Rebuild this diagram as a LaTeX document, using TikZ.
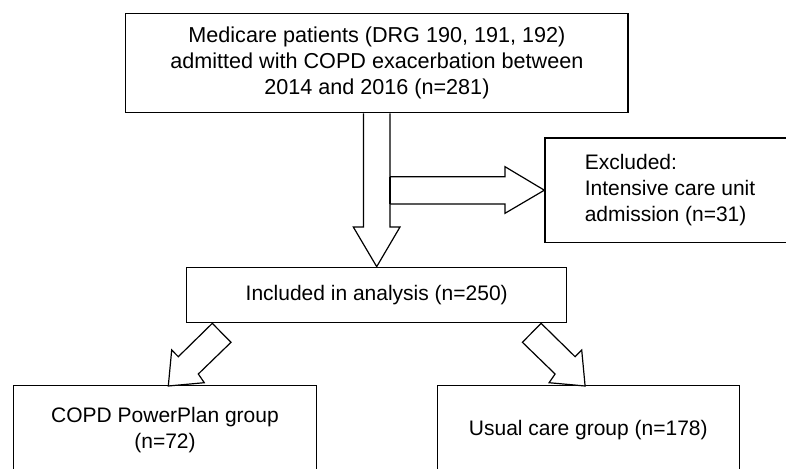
\documentclass[tikz,border=0pt]{standalone}
\usepackage{fontspec}
\setmainfont{Liberation Sans}
\usetikzlibrary{calc}
\begin{document}
\begin{tikzpicture}[x=1pt,y=-1pt,
  box/.style={draw, line width=1.3pt, inner sep=0pt, align=center,
    font=\fontsize{21}{26}\selectfont},
  blockarrow/.style={draw, line width=1.2pt, fill=white, line join=miter}]
\clip (0,0) rectangle (786,468);
\fill[white] (0,0) rectangle (786,468);

\node[box, minimum width=502.2, minimum height=99.4, font=\fontsize{21.6}{26.2}\selectfont] (top) at (376.9,63)
  {Medicare patients (DRG 190, 191, 192)\\admitted with COPD exacerbation between\\2014 and 2016 (n=281)};
\node[box, minimum width=250, minimum height=104.3, align=left] (excl) at (670,190.2)
  {Excluded:\\Intensive care unit\\admission (n=31)};
\node[box, minimum width=380, minimum height=55.4] (incl) at (376.7,295)
  {Included in analysis (n=250)};
\node[box, minimum width=303.4, minimum height=88.6] (ppg) at (165,430)
  {COPD PowerPlan group\\(n=72)};
\node[box, minimum width=302, minimum height=88.6] (ucg) at (588.3,430)
  {Usual care group (n=178)};

% vertical block arrow: top -> incl
\draw[blockarrow] ($(top.south)+(-13.4,0)$) -- (363.5,227) -- (353.3,227)
  -- (incl.north) -- (400,227) -- (390,227) -- ($(top.south)+(13.1,0)$);
% horizontal block arrow -> excl
\draw[blockarrow] (390,176.7) -- (505,176.7) -- (505,166.7) -- (excl.west)
  -- (505,213.3) -- (505,204) -- (390,204);
\draw[line width=1.2pt] (390,176.7) -- (390,204);

% diagonal block arrow: incl -> ppg
\draw[blockarrow] ($(incl.south)+(-164.4,0)$) -- (178.3,356.7) -- (171.7,350)
  -- (168.3,386) -- (204.3,382.7) -- (198.3,374) -- (231,342.3) -- cycle;
% diagonal block arrow: incl -> ucg
\draw[blockarrow] ($(incl.south)+(164.4,0)$) -- (575.1,356.7) -- (581.7,350)
  -- (585.1,386) -- (549.1,382.7) -- (555.1,374) -- (522.4,342.3) -- cycle;
\end{tikzpicture}
\end{document}
